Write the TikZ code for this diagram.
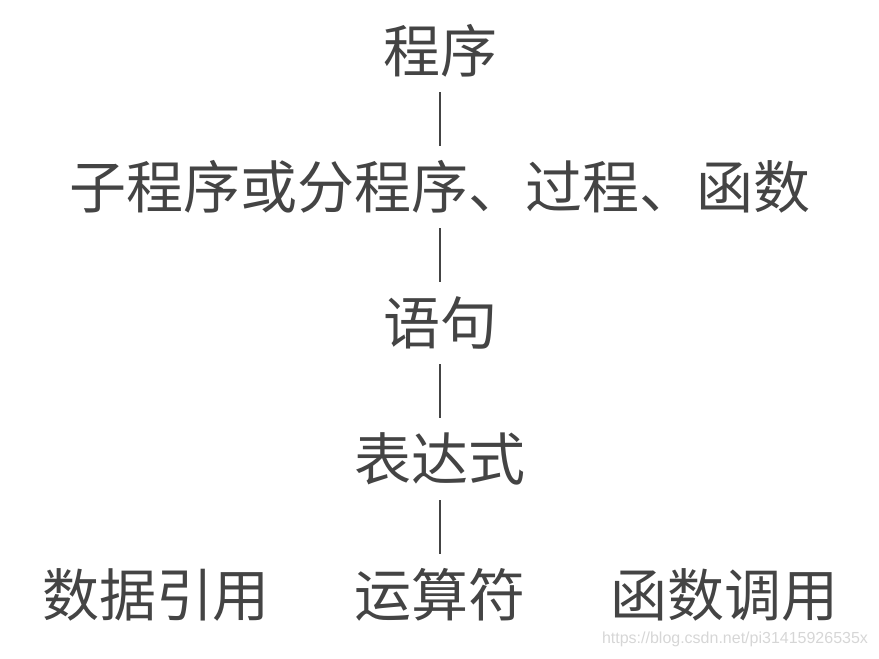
\documentclass[tikz,border=0pt]{standalone}
\usepackage{fontspec}
\newfontfamily\cjk{Noto Sans CJK SC}
\newfontfamily\urlfont{Liberation Sans}
\usepackage{tikz}
\usetikzlibrary{positioning}
\definecolor{inkgray}{HTML}{444444}
\definecolor{markgray}{HTML}{D6D6D6}
\newcommand{\newLevel}[3]{\node[level](#1)[#3]{#2};}
\newcommand{\newLink}[2]{\path (#1) edge (#2); }

\begin{document}
\begin{tikzpicture}[
    % Pixel-like units, y grows downwards
    x=1pt,y=-1pt,
    % Default stroke colour and thickness
    color=inkgray,line width=2pt,
    % Default node distance
    node distance=136pt,
    level/.style={font=\cjk\fontsize{57}{57}\selectfont,inner sep=14pt},
    watermark/.style={text=markgray,font=\urlfont\fontsize{16}{16}\selectfont,inner sep=0pt}
    ]
    \useasboundingbox (0,0) rectangle (879,659);

    \node[level] (prog) at (440,51) {程序};
    \newLevel{sub}{子程序或分程序、过程、函数}{below of=prog}
    \newLevel{stmt}{语句}{below of=sub}
    \newLevel{expr}{表达式}{below of=stmt}
    \newLevel{oper}{运算符}{below of=expr}
    \newLevel{data}{数据引用}{left of=oper,node distance=284pt}
    \newLevel{call}{函数调用}{right of=oper,node distance=284pt}

    \newLink{prog}{sub}
    \newLink{sub}{stmt}
    \newLink{stmt}{expr}
    \newLink{expr}{oper}

    \node[watermark,anchor=east] (url) at (869,639) {https://blog.csdn.net/pi31415926535x};
  \end{tikzpicture}
\end{document}
